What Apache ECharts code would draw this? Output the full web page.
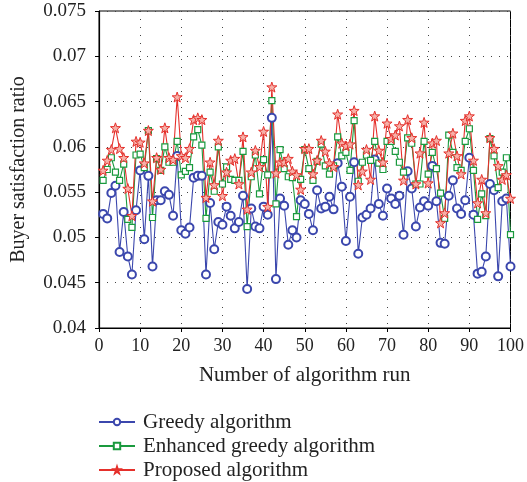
<!DOCTYPE html>
<html>
<head>
<meta charset="utf-8">
<title></title>
<script src="https://cdn.jsdelivr.net/npm/echarts@6/dist/echarts.min.js"></script>
<style>
  html, body { margin: 0; padding: 0; background: #fff; }
  #chart { width: 527px; height: 482px; }
</style>
</head>
<body>
<div id="chart"></div>
<script>
// values, runs 1..100
var runs = [];
for (var r = 1; r <= 100; r++) runs.push(r);

var greedy = [
  0.0526, 0.0521, 0.0549, 0.0557, 0.0484, 0.0528, 0.0479, 0.0459, 0.0530, 0.0574,
  0.0498, 0.0568, 0.0468, 0.0541, 0.0541, 0.0551, 0.0547, 0.0524, 0.0590, 0.0508,
  0.0504, 0.0511, 0.0566, 0.0568, 0.0568, 0.0459, 0.0538, 0.0487, 0.0517, 0.0514,
  0.0534, 0.0524, 0.0510, 0.0517, 0.0546, 0.0443, 0.0532, 0.0512, 0.0510, 0.0534,
  0.0525, 0.0632, 0.0454, 0.0543, 0.0535, 0.0492, 0.0508, 0.0500, 0.0541, 0.0537,
  0.0526, 0.0508, 0.0552, 0.0532, 0.0534, 0.0545, 0.0531, 0.0582, 0.0556, 0.0496,
  0.0545, 0.0583, 0.0482, 0.0522, 0.0525, 0.0532, 0.0586, 0.0537, 0.0524, 0.0554,
  0.0543, 0.0537, 0.0546, 0.0503, 0.0573, 0.0554, 0.0512, 0.0533, 0.0540, 0.0535,
  0.0579, 0.0540, 0.0494, 0.0493, 0.0546, 0.0563, 0.0532, 0.0526, 0.0541, 0.0588,
  0.0525, 0.0460, 0.0462, 0.0479, 0.0559, 0.0552, 0.0457, 0.0540, 0.0543, 0.0468
];
var enhanced = [
  0.0563, 0.0575, 0.0588, 0.0572, 0.0563, 0.0581, 0.0520, 0.0511, 0.0591, 0.0592,
  0.0577, 0.0618, 0.0522, 0.0587, 0.0574, 0.0600, 0.0583, 0.0583, 0.0606, 0.0569,
  0.0573, 0.0577, 0.0611, 0.0619, 0.0602, 0.0521, 0.0572, 0.0551, 0.0600, 0.0559,
  0.0578, 0.0564, 0.0563, 0.0563, 0.0595, 0.0512, 0.0567, 0.0591, 0.0548, 0.0586,
  0.0569, 0.0651, 0.0537, 0.0597, 0.0576, 0.0567, 0.0566, 0.0523, 0.0564, 0.0597,
  0.0576, 0.0563, 0.0584, 0.0603, 0.0579, 0.0570, 0.0579, 0.0611, 0.0590, 0.0594,
  0.0574, 0.0629, 0.0562, 0.0583, 0.0591, 0.0585, 0.0606, 0.0582, 0.0575, 0.0606,
  0.0606, 0.0595, 0.0583, 0.0572, 0.0610, 0.0604, 0.0559, 0.0559, 0.0606, 0.0570,
  0.0594, 0.0576, 0.0549, 0.0521, 0.0613, 0.0594, 0.0577, 0.0574, 0.0606, 0.0620,
  0.0574, 0.0520, 0.0548, 0.0524, 0.0609, 0.0590, 0.0555, 0.0572, 0.0588, 0.0503
];
var proposed = [
  0.0574, 0.0585, 0.0597, 0.0621, 0.0598, 0.0588, 0.0554, 0.0524, 0.0606, 0.0605,
  0.0582, 0.0618, 0.0540, 0.0588, 0.0575, 0.0621, 0.0588, 0.0586, 0.0655, 0.0590,
  0.0588, 0.0598, 0.0630, 0.0632, 0.0630, 0.0544, 0.0583, 0.0558, 0.0607, 0.0546,
  0.0572, 0.0585, 0.0587, 0.0559, 0.0611, 0.0531, 0.0572, 0.0596, 0.0578, 0.0617,
  0.0534, 0.0666, 0.0571, 0.0583, 0.0583, 0.0587, 0.0573, 0.0569, 0.0553, 0.0598,
  0.0598, 0.0570, 0.0585, 0.0607, 0.0595, 0.0582, 0.0578, 0.0636, 0.0604, 0.0601,
  0.0603, 0.0640, 0.0558, 0.0573, 0.0597, 0.0564, 0.0634, 0.0596, 0.0583, 0.0626,
  0.0609, 0.0613, 0.0623, 0.0563, 0.0630, 0.0610, 0.0559, 0.0593, 0.0627, 0.0560,
  0.0604, 0.0607, 0.0516, 0.0527, 0.0593, 0.0615, 0.0590, 0.0570, 0.0629, 0.0634,
  0.0585, 0.0538, 0.0564, 0.0527, 0.0610, 0.0598, 0.0579, 0.0564, 0.0569, 0.0543
];

var seriesNames = ["Greedy algorithm", "Enhanced greedy algorithm", "Proposed algorithm"];
var colors = ["#3b47ad", "#1a9a3e", "#e5302b"];

var font = "'Liberation Serif', 'DejaVu Serif', serif";
var starPath = "path://M0,-10L2.35,-3.24L9.51,-3.09L3.8,1.24L5.88,8.09L0,4L-5.88,8.09L-3.8,1.24L-9.51,-3.09L-2.35,-3.24Z";

function pairs(vals) {
  var out = [];
  for (var i = 0; i < vals.length; i++) out.push([runs[i], vals[i]]);
  return out;
}

var chart = echarts.init(document.getElementById("chart"), null, { renderer: "canvas" });

var dotted = { show: true, lineStyle: { color: "#444", width: 1, type: [1, 7] } };

chart.setOption({
  animation: false,
  backgroundColor: "#fff",
  grid: { left: 99, right: 16, top: 11, bottom: 154, show: true, borderColor: "#000", borderWidth: 1 },
  legend: {
    orient: "vertical",
    left: 98,
    top: 410,
    height: 90,
    padding: 0,
    itemWidth: 36,
    itemHeight: 8,
    itemGap: 0,
    textStyle: { fontFamily: font, fontSize: 21, color: "#222", lineHeight: 24, padding: [0, 0, 0, 3] },
    data: seriesNames
  },
  xAxis: {
    type: "value",
    min: 0, max: 100, interval: 10,
    name: "Number of algorithm run",
    nameLocation: "middle",
    nameGap: 37,
    nameTextStyle: { fontFamily: font, fontSize: 21, color: "#222" },
    axisLine: { lineStyle: { color: "#000", width: 1.2 } },
    axisTick: { length: 4, lineStyle: { color: "#000" } },
    axisLabel: { fontFamily: font, fontSize: 18, color: "#222", margin: 9 },
    splitLine: dotted
  },
  yAxis: {
    type: "value",
    min: 0.04, max: 0.075, interval: 0.005,
    name: "Buyer satisfaction ratio",
    nameLocation: "middle",
    nameGap: 70,
    nameTextStyle: { fontFamily: font, fontSize: 20, color: "#222" },
    axisLine: { show: true, lineStyle: { color: "#000", width: 1.2 } },
    axisTick: { show: true, length: 4, lineStyle: { color: "#000" } },
    axisLabel: {
      fontFamily: font, fontSize: 19, color: "#222", margin: 13,
      formatter: function (v) { return String(+v.toFixed(3)); }
    },
    splitLine: dotted
  },
  series: [
    {
      name: seriesNames[0], type: "line", data: pairs(greedy),
      symbol: "emptyCircle", symbolSize: 8,
      lineStyle: { color: colors[0], width: 1.1 },
      itemStyle: { color: colors[0], borderWidth: 1 }
    },
    {
      name: seriesNames[1], type: "line", data: pairs(enhanced),
      symbol: "rect", symbolSize: 6,
      lineStyle: { color: colors[1], width: 1.1 },
      itemStyle: { color: "#fff", borderColor: colors[1], borderWidth: 1.2 }
    },
    {
      name: seriesNames[2], type: "line", data: pairs(proposed),
      symbol: starPath, symbolSize: 10,
      lineStyle: { color: colors[2], width: 1.1 },
      itemStyle: { color: "#f6b0a8", borderColor: colors[2], borderWidth: 1 }
    }
  ]
});
</script>
</body>
</html>
